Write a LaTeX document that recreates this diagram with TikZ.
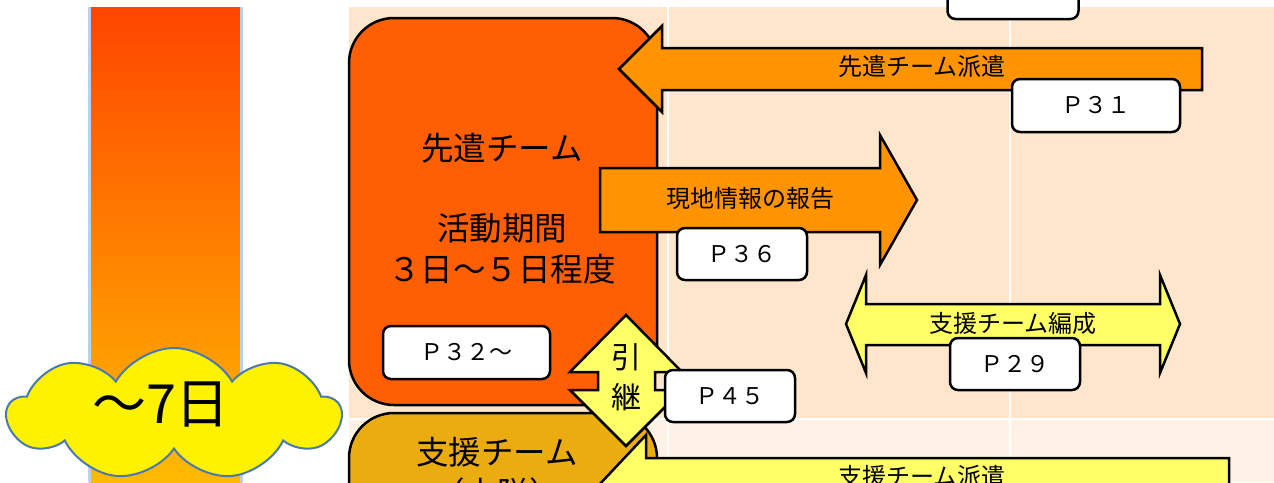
\documentclass[tikz,border=0pt]{standalone}
\usepackage{fontspec}
\setmainfont{Noto Sans CJK JP}
\usetikzlibrary{shapes.symbols}
\definecolor{peach}{HTML}{FEE6CC}
\definecolor{peachlight}{HTML}{FEF2E7}
\definecolor{barTop}{HTML}{FF4500}
\definecolor{barBot}{HTML}{FFBA00}
\definecolor{barEdge}{HTML}{B9D1EA}
\definecolor{cloudEdge}{HTML}{4A7AAB}
\definecolor{senkenFill}{HTML}{FF5F00}
\definecolor{shienFill}{HTML}{EBAC10}
\definecolor{arrowOrange}{HTML}{FF9400}
\definecolor{arrowYellow}{HTML}{FFFF66}
\begin{document}
\begin{tikzpicture}[x=1pt,y=-1pt]
\tikzset{blk/.style={draw, line width=2.5pt, line join=miter}}
\tikzset{pbox/.style={draw, line width=2.5pt, fill=white, rounded corners=8pt, minimum width=130pt, minimum height=52pt, font=\fontsize{23}{28}\selectfont}}
\tikzset{lbl/.style={inner sep=0pt, font=\fontsize{24}{28}\selectfont}}
\tikzset{big/.style={inner sep=0pt, align=center, font=\fontsize{32.5}{41}\selectfont}}
\clip (0,0) rectangle (1274,482);
\fill[peach] (349,7) rectangle (1274,419);
\fill[peachlight] (349,419) rectangle (1274,482);
\draw[white, line width=2pt] (668,7) -- (668,482) (1010,7) -- (1010,482) (349,419) -- (1274,419);
\shade[top color=barTop, bottom color=barBot] (89,7) rectangle (242,482);
\draw[barEdge, line width=2.5pt] (89.5,7) -- (89.5,482) (241.5,7) -- (241.5,482);
\node[cloud, draw=cloudEdge, fill=yellow, line width=2pt, cloud puffs=9, cloud puff arc=120, aspect=2.5, minimum width=333pt, minimum height=132pt, inner sep=0pt] (cloud) at (174,414) {};
\node[inner sep=0pt, font=\fontsize{54}{60}\selectfont] (days) at (161,405) {～7日};
\node[blk, fill=senkenFill, rounded corners=45pt, minimum width=308pt, minimum height=387pt] (senken) at (503,211.5) {};
\node[big] (senkentext) at (502,209) {先遣チーム\\[39pt]活動期間\\３日～５日程度};
\draw[blk, fill=shienFill, rounded corners=45pt] (349,413) rectangle (657,600);
\node[big] (shien) at (497,473) {支援チーム\\（本隊）};
\draw[blk, fill=arrowYellow] (626,315) -- (682,372) -- (655,372) -- (655,390) -- (682,390) -- (626,446) -- (570,390) -- (598,390) -- (598,372) -- (570,372) -- cycle;
\node[inner sep=0pt, align=center, font=\fontsize{30}{40}\selectfont] (hikitsugi) at (626,377) {引\\継};
\draw[blk, fill=arrowOrange] (600,168) -- (880,168) -- (880,135) -- (917,200) -- (880,265) -- (880,232) -- (600,232) -- cycle;
\node[lbl] (houkoku) at (750,198) {現地情報の報告};
\draw[blk, fill=arrowOrange] (619,69) -- (662,26) -- (662,48) -- (1202,48) -- (1202,90) -- (662,90) -- (662,112) -- cycle;
\node[lbl] (haken) at (922,66) {先遣チーム派遣};
\draw[blk, fill=arrowYellow] (846,324) -- (866,275) -- (866,304) -- (1160,304) -- (1160,275) -- (1180,324) -- (1160,373) -- (1160,345) -- (866,345) -- (866,373) -- cycle;
\node[lbl] (hensei) at (1013,323) {支援チーム編成};
\draw[blk, fill=arrowYellow] (598,486) -- (646,435) -- (646,458) -- (1229,458) -- (1229,514) -- (646,514) -- (646,537) -- cycle;
\node[lbl] (shienhaken) at (922,476) {支援チーム派遣};
\node[pbox, minimum width=131pt, minimum height=54pt] (ptop) at (1013,-8) {};
\node[pbox, minimum width=168pt, minimum height=53pt] (p31) at (1096,105.5) {Ｐ３１};
\node[pbox] (p36) at (742,254) {Ｐ３６};
\node[pbox, minimum width=167pt, minimum height=53pt] (p32) at (466.5,352.5) {Ｐ３２～};
\node[pbox] (p29) at (1015,364) {Ｐ２９};
\node[pbox] (p45) at (730,396) {Ｐ４５};
\end{tikzpicture}
\end{document}
